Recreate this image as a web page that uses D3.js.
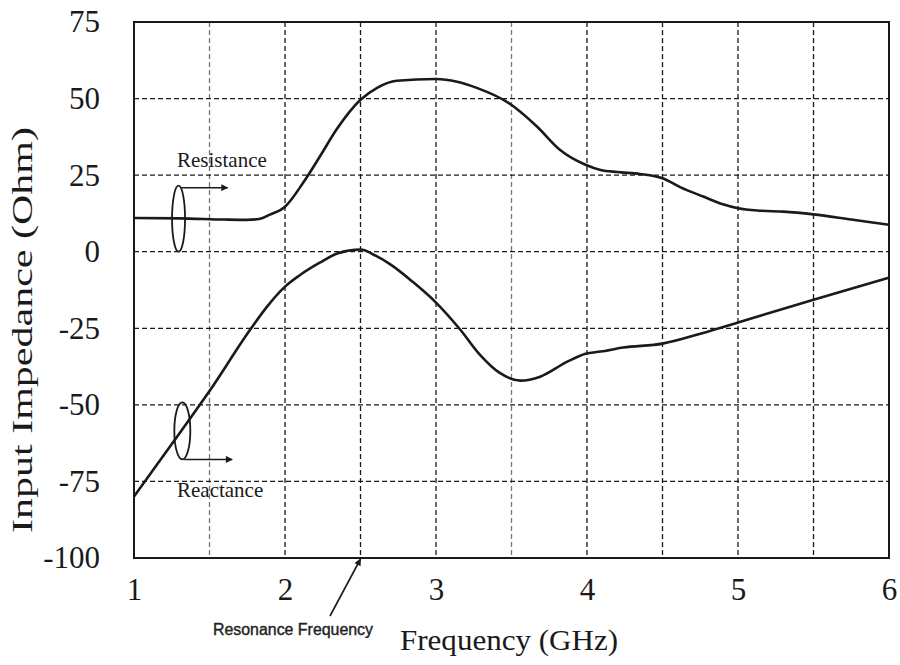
<!DOCTYPE html>
<html>
<head>
<meta charset="utf-8">
<script src="https://cdn.jsdelivr.net/npm/d3@7"></script>
<style>
  html, body { margin: 0; padding: 0; background: #fff; }
  svg { display: block; }
</style>
</head>
<body>
<svg id="chart" width="900" height="665"></svg>
<script>
// ---- data ----
const xTicks = [1, 2, 3, 4, 5, 6];
const yTicks = [75, 50, 25, 0, -25, -50, -75, -100];
const xGrid = [1.5, 2, 2.5, 3, 3.5, 4, 4.5, 5, 5.5];
const yGrid = [50, 25, 0, -25, -50, -75];

const resFreq = [1.0, 1.3, 1.6, 1.75, 1.83, 1.9, 2.0, 2.12, 2.23, 2.34, 2.5, 2.61, 2.74, 3.0, 3.14, 3.27, 3.48, 3.67, 3.82, 3.99, 4.09, 4.2, 4.35, 4.5, 4.62, 4.77, 4.9, 5.0, 5.15, 5.3, 5.5, 5.75, 6.0];
const resistance = [11, 10.9, 10.5, 10.4, 10.7, 12.1, 14.7, 22.5, 31, 39.8, 49.6, 53.5, 55.8, 56.4, 55.5, 53.5, 48.6, 40.8, 33.3, 28.4, 26.7, 26, 25.4, 24, 21, 18, 15.5, 14.2, 13.4, 13.1, 12.2, 10.5, 8.8];

const reaFreq = [1.0, 1.31, 1.5, 1.77, 1.88, 2.0, 2.1, 2.23, 2.35, 2.5, 2.6, 2.7, 2.85, 3.0, 3.16, 3.29, 3.42, 3.56, 3.69, 3.87, 3.99, 4.09, 4.24, 4.5, 4.77, 5.0, 5.5, 6.0];
const reactance = [-79.9, -58.7, -45.5, -25.4, -18, -11.4, -7.6, -3.6, -0.5, 0.7, -1.3, -4.2, -10, -16.6, -25.4, -33.6, -39.5, -42.1, -40.8, -35.9, -33.3, -32.6, -31.3, -30, -26.5, -23.1, -15.7, -8.5];

const seriesLabels = ["Resistance", "Reactance"];
const xTitle = "Frequency (GHz)";
const yTitle = "Input Impedance (Ohm)";
const resonanceLabel = "Resonance Frequency";
const resonanceFreq = 2.5;

// ---- layout ----
const svg = d3.select("#chart");
const pL = 134, pR = 889, pT = 22, pB = 558;
const x = d3.scaleLinear().domain([1, 6]).range([pL, pR]);
const y = d3.scaleLinear().domain([-100, 75]).range([pB, pT]);
const ink = "#1a1a1a";
const serif = "'Liberation Serif', 'Times New Roman', serif";

svg.append("rect").attr("width", 900).attr("height", 665).attr("fill", "#fff");

const defs = svg.append("defs");
defs.append("marker").attr("id", "arr").attr("viewBox", "0 0 10 10")
  .attr("refX", 9).attr("refY", 5).attr("markerWidth", 9).attr("markerHeight", 7)
  .attr("markerUnits", "userSpaceOnUse").attr("orient", "auto")
  .append("path").attr("d", "M0,0 L10,5 L0,10 z").attr("fill", ink);

// grid
const grid = svg.append("g").attr("stroke", ink).attr("stroke-width", 1.3)
  .attr("stroke-dasharray", "5,3").attr("fill", "none");
grid.selectAll("line.v").data(xGrid).join("line").attr("class", "v")
  .attr("x1", d => x(d)).attr("x2", d => x(d)).attr("y1", pT).attr("y2", pB)
  .attr("opacity", d => (d === 1.5 || d === 3.5) ? 0.6 : 1);
grid.selectAll("line.h").data(yGrid).join("line").attr("class", "h")
  .attr("y1", d => y(d)).attr("y2", d => y(d)).attr("x1", pL).attr("x2", pR);

// frame
svg.append("rect").attr("x", pL).attr("y", pT)
  .attr("width", pR - pL).attr("height", pB - pT)
  .attr("fill", "none").attr("stroke", ink).attr("stroke-width", 2);

// axes
const fmt = d => String(d);
const yAxis = svg.append("g").attr("transform", `translate(${pL},0)`)
  .call(d3.axisLeft(y).tickValues(yTicks).tickSize(0).tickPadding(34).tickFormat(fmt));
const xAxis = svg.append("g").attr("transform", `translate(0,${pB})`)
  .call(d3.axisBottom(x).tickValues(xTicks).tickSize(0).tickPadding(20).tickFormat(fmt));
[xAxis, yAxis].forEach(a => {
  a.select(".domain").remove();
  a.selectAll("text").attr("font-family", serif).attr("font-size", 31).attr("fill", ink);
});

// titles
svg.append("text").attr("x", 509).attr("y", 650).attr("text-anchor", "middle")
  .attr("font-family", serif).attr("font-size", 30).attr("fill", ink)
  .attr("textLength", 218).attr("lengthAdjust", "spacingAndGlyphs").text(xTitle);
svg.append("text").attr("transform", "translate(32,330) rotate(-90)").attr("text-anchor", "middle")
  .attr("font-family", serif).attr("font-size", 30).attr("fill", ink)
  .attr("textLength", 406).attr("lengthAdjust", "spacingAndGlyphs").text(yTitle);

// curves
const line = d3.line().curve(d3.curveMonotoneX);
svg.append("path").datum(resFreq.map((f, i) => [x(f), y(resistance[i])]))
  .attr("d", line).attr("fill", "none").attr("stroke", ink).attr("stroke-width", 2.6);
svg.append("path").datum(reaFreq.map((f, i) => [x(f), y(reactance[i])]))
  .attr("d", line).attr("fill", "none").attr("stroke", ink).attr("stroke-width", 2.6);

// annotations: Resistance
const rCx = x(1.295), rCy = y(10.8);
svg.append("ellipse").attr("cx", rCx).attr("cy", rCy).attr("rx", 6.5).attr("ry", 33)
  .attr("fill", "none").attr("stroke", ink).attr("stroke-width", 1.8);
svg.append("line").attr("x1", rCx + 3).attr("y1", rCy - 31).attr("x2", x(1.62)).attr("y2", rCy - 31)
  .attr("stroke", ink).attr("stroke-width", 1.5).attr("marker-end", "url(#arr)");
svg.append("text").attr("x", 177).attr("y", 167).attr("font-family", serif).attr("font-size", 21)
  .attr("fill", ink).text(seriesLabels[0]);

// annotations: Reactance
const aCx = x(1.32), aCy = y(-58.5);
svg.append("ellipse").attr("cx", aCx).attr("cy", aCy).attr("rx", 8).attr("ry", 28.5)
  .attr("fill", "none").attr("stroke", ink).attr("stroke-width", 1.8);
svg.append("line").attr("x1", aCx + 2).attr("y1", aCy + 28.5).attr("x2", x(1.65)).attr("y2", aCy + 28.5)
  .attr("stroke", ink).attr("stroke-width", 1.5).attr("marker-end", "url(#arr)");
svg.append("text").attr("x", 177).attr("y", 497).attr("font-family", serif).attr("font-size", 21)
  .attr("fill", ink).text(seriesLabels[1]);

// resonance frequency arrow
svg.append("line").attr("x1", 330).attr("y1", 616).attr("x2", x(resonanceFreq)).attr("y2", pB + 1)
  .attr("stroke", ink).attr("stroke-width", 1.6).attr("marker-end", "url(#arr)");
svg.append("text").attr("x", 293).attr("y", 635).attr("text-anchor", "middle")
  .attr("font-family", "'Liberation Sans', Arial, sans-serif").attr("font-size", 16)
  .attr("fill", "#222").attr("stroke", "#222").attr("stroke-width", 0.4)
  .attr("textLength", 160).attr("lengthAdjust", "spacingAndGlyphs").text(resonanceLabel);
</script>
</body>
</html>
